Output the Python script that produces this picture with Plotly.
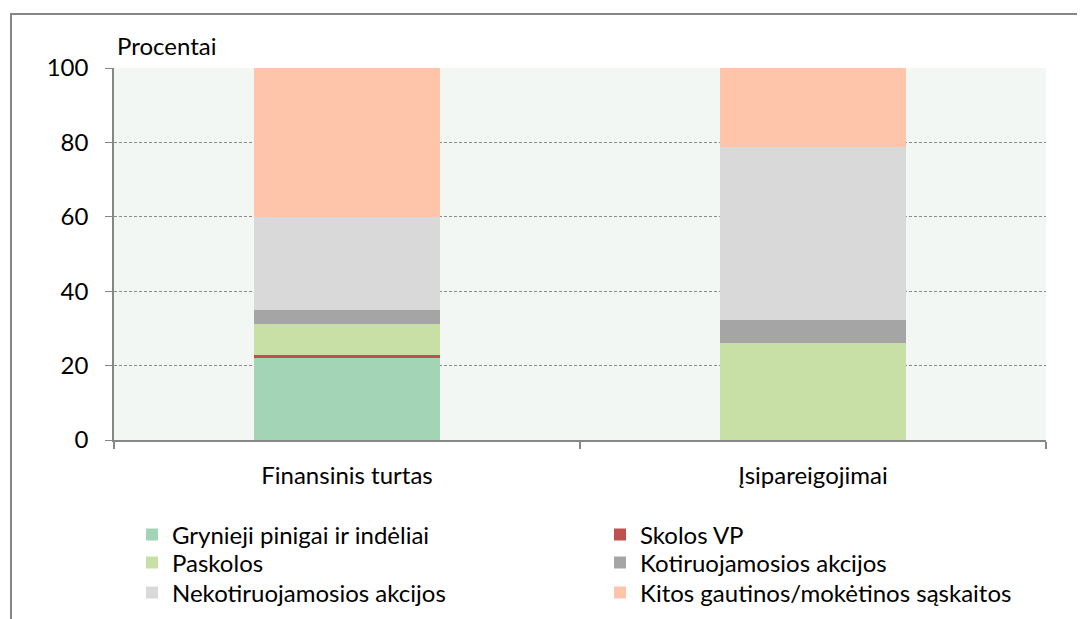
import plotly.graph_objects as go

categories = ["Finansinis turtas", "Įsipareigojimai"]
series_names = [
    "Grynieji pinigai ir indėliai",
    "Skolos VP",
    "Paskolos",
    "Kotiruojamosios akcijos",
    "Nekotiruojamosios akcijos",
    "Kitos gautinos/mokėtinos sąskaitos",
]
grynieji = [22.1, 0.0]
skolos_vp = [0.7, 0.0]
paskolos = [8.3, 26.0]
kotiruojamosios = [3.8, 6.2]
nekotiruojamosios = [25.0, 46.6]
kitos = [40.1, 21.2]
series_values = [grynieji, skolos_vp, paskolos, kotiruojamosios, nekotiruojamosios, kitos]
colors = ["#A3D4B5", "#C0504D", "#C8E0A6", "#A5A5A5", "#D9D9D9", "#FFC5AA"]
legend_ids = ["legend", "legend", "legend2", "legend2", "legend3", "legend3"]
y_ticks = [0, 20, 40, 60, 80, 100]

FONT = "Lato"
fig = go.Figure()
for name, vals, col, lg in zip(series_names, series_values, colors, legend_ids):
    fig.add_trace(go.Bar(
        x=categories, y=vals, name=name, marker=dict(color=col, line=dict(width=0)),
        legend=lg,
    ))

OFF = 8  # page body offset
W, H = 1085, 619
# target plot area in screen pixels: x 114..1046, y 68..440
L = 114 - OFF
T = 68 - OFF
pw, ph = 932, 372
R = W - L - pw
B = H - T - ph

def sx(p):
    return (p - OFF - L) / pw

def sy(p):
    return (T + ph - (p - OFF)) / ph

leg_common = dict(orientation="h", xanchor="left", yanchor="middle",
                  entrywidth=423, entrywidthmode="pixels",
                  font=dict(family=FONT, size=24, color="#000000"),
                  bgcolor="rgba(0,0,0,0)", traceorder="normal")

fig.update_layout(
    width=W, height=H,
    margin=dict(l=L, r=R, t=T, b=B, autoexpand=False),
    paper_bgcolor="white",
    plot_bgcolor="#F2F7F4",
    barmode="stack",
    bargap=0.6,
    font=dict(family=FONT, size=24, color="#000000"),
    legend=dict(x=sx(132), y=sy(535), **leg_common),
    legend2=dict(x=sx(132), y=sy(563), **leg_common),
    legend3=dict(x=sx(132), y=sy(593), **leg_common),
    xaxis=dict(
        showline=True, linecolor="#868686", linewidth=2,
        ticks="outside", tickson="boundaries", ticklen=7, tickcolor="#868686", tickwidth=2,
        showgrid=False, tickfont=dict(family=FONT, size=24, color="#000"),
        ticklabelstandoff=13, automargin=False,
    ),
    yaxis=dict(
        range=[0, 100], tickvals=y_ticks,
        showline=True, linecolor="#868686", linewidth=1.5,
        ticks="outside", ticklen=7, tickcolor="#868686",
        showgrid=True, gridcolor="#8C8C8C", gridwidth=1, griddash="3px,2px",
        zeroline=False, automargin=False,
        tickfont=dict(family=FONT, size=24, color="#000"),
        ticklabelstandoff=12,
    ),
    annotations=[dict(
        text="Procentai", xref="paper", yref="paper", x=sx(115), y=sy(45),
        xanchor="left", yanchor="middle", showarrow=False,
        font=dict(family=FONT, size=24, color="#000"),
    )],
    shapes=[dict(
        type="rect", xref="paper", yref="paper",
        x0=sx(11), x1=sx(1110), y0=sy(650), y1=sy(14),
        line=dict(color="#868686", width=2), fillcolor="rgba(0,0,0,0)", layer="below",
    )],
)

fig.write_html("out.html")
